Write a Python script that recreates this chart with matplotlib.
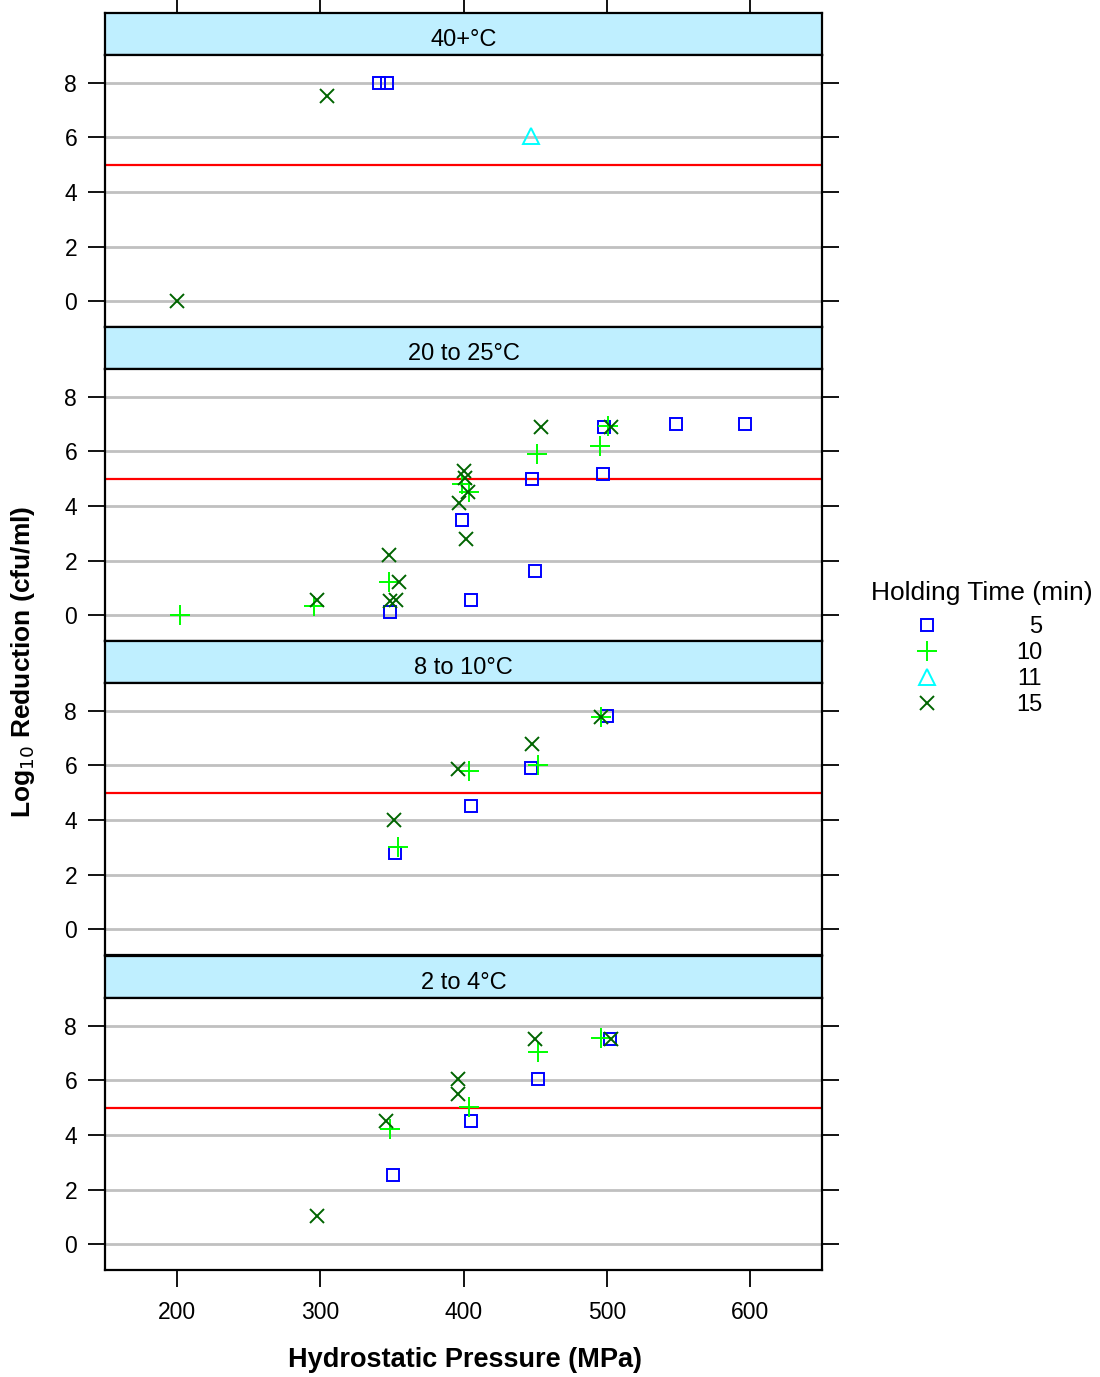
import matplotlib
matplotlib.use('Agg')
import matplotlib.pyplot as plt

plt.rcParams['font.family'] = ['Liberation Sans', 'DejaVu Sans']

# panels, top to bottom
temp_groups = ["40+°C", "20 to 25°C", "8 to 10°C", "2 to 4°C"]
hold_times = [5, 10, 11, 15]

temp_40 = {
    "pressure": [200, 305, 341, 347, 447],
    "reduction": [0.0, 7.5, 8.0, 8.0, 6.05],
    "hold": [15, 15, 5, 5, 11],
}
temp_20 = {
    "pressure": [202, 296, 298, 348, 348, 355, 349, 353, 349, 405, 399, 402, 397, 400,
                 401, 403, 399, 404, 448, 451, 454, 450, 497, 495, 498, 501, 503, 548, 596],
    "reduction": [0.0, 0.35, 0.55, 2.2, 1.23, 1.2, 0.52, 0.55, 0.13, 0.55, 3.5, 2.8, 4.1, 5.27,
                  5.03, 4.5, 4.8, 4.5, 5.0, 5.9, 6.9, 1.62, 5.18, 6.18, 6.9, 6.92, 6.9, 7.0, 7.0],
    "hold": [10, 10, 15, 15, 10, 15, 15, 15, 5, 5, 5, 15, 15, 15,
             15, 15, 10, 10, 5, 10, 15, 5, 5, 10, 5, 10, 15, 5, 5],
}
temp_8 = {
    "pressure": [496, 496, 500, 448, 447, 452, 396.5, 404, 405, 351.5, 354, 352],
    "reduction": [7.78, 7.78, 7.8, 6.77, 5.89, 6.0, 5.88, 5.78, 4.51, 4.0, 3.02, 2.8],
    "hold": [15, 10, 5, 15, 5, 10, 15, 10, 5, 15, 10, 5],
}
temp_2 = {
    "pressure": [298, 351, 346, 349, 396.5, 396.5, 404, 405, 450, 452, 452, 496, 502, 503],
    "reduction": [1.02, 2.52, 4.52, 4.2, 6.04, 5.5, 5.03, 4.52, 7.53, 7.04, 6.04, 7.56, 7.53, 7.53],
    "hold": [15, 5, 15, 10, 15, 15, 10, 5, 15, 10, 5, 10, 5, 15],
}
panels = [temp_40, temp_20, temp_8, temp_2]

x_ticks = [200, 300, 400, 500, 600]
y_ticks = [0, 2, 4, 6, 8]
target_log = 5

styles = {
    5: dict(marker='s', color='#0000FF', ms=8, mfc='none', mew=1.4),
    10: dict(marker='+', color='#00FF00', ms=14, mew=1.4),
    11: dict(marker='^', color='#00FFFF', ms=12, mfc='none', mew=1.4),
    15: dict(marker='x', color='#006400', ms=10, mew=1.4),
}

W, H = 1100, 1377
fig = plt.figure(figsize=(W / 100, H / 100), dpi=100)

def px_axes(x0, y0, x1, y1):
    return fig.add_axes([x0 / W, 1 - y1 / H, (x1 - x0) / W, (y1 - y0) / H])

left, right = 105, 822
tops = [13, 327, 641, 956]
strip_h, plot_h = 42, 272

for i, (name, d) in enumerate(zip(temp_groups, panels)):
    t = tops[i]
    # strip
    sax = px_axes(left, t, right, t + strip_h)
    sax.set_facecolor('#BFEFFF')
    sax.set_xlim(150, 650)
    sax.set_yticks([])
    sax.text(0.5, 0.36, name, transform=sax.transAxes, ha='center', va='center', fontsize=17)
    for sp in sax.spines.values():
        sp.set_linewidth(1.6)
    if i == 0:
        sax.set_xticks(x_ticks)
        sax.tick_params(axis='x', top=True, bottom=False, labeltop=False, labelbottom=False,
                        direction='out', length=12, width=1.3)
    else:
        sax.set_xticks([])

    ax = px_axes(left, t + strip_h, right, t + strip_h + plot_h)
    ax.set_xlim(150, 650)
    ax.set_ylim(-0.95, 9.02)
    ax.set_yticks(y_ticks)
    ax.set_xticks(x_ticks)
    for y in y_ticks:
        ax.axhline(y, color='#C0C0C0', lw=2, zorder=1)
    ax.axhline(target_log, color='#FF0000', lw=1.6, zorder=2)
    for h in hold_times:
        xs = [p for p, hh in zip(d["pressure"], d["hold"]) if hh == h]
        ys = [r for r, hh in zip(d["reduction"], d["hold"]) if hh == h]
        if xs:
            ax.plot(xs, ys, ls='none', zorder=3, **styles[h])
    ax.tick_params(axis='y', left=True, right=True, labelleft=True, labelright=False,
                   direction='out', length=12, width=1.3, labelsize=16.5, pad=8)
    last = i == len(temp_groups) - 1
    ax.tick_params(axis='x', top=False, bottom=last, labelbottom=last,
                   direction='out', length=12, width=1.3, labelsize=16.5, pad=10)
    for sp in ax.spines.values():
        sp.set_linewidth(1.6)

fig.text(465 / W, 1 - 1360 / H, "Hydrostatic Pressure (MPa)", ha='center', va='center',
         fontsize=19.5, fontweight='bold')
fig.text(23 / W, 1 - 662 / H, "Log$_{10}$ Reduction (cfu/ml)", ha='center', va='center',
         rotation=90, fontsize=19, fontweight='bold')

# legend
fig.text(982 / W, 1 - 593 / H, "Holding Time (min)", ha='center', va='center', fontsize=19)
leg_y = [625, 651, 677, 703]
for h, yy in zip(hold_times, leg_y):
    fig.lines.append(matplotlib.lines.Line2D([927 / W], [1 - yy / H], transform=fig.transFigure,
                                             ls='none', **styles[h]))
    fig.text(1042 / W, 1 - (yy + 2) / H, str(h), ha='right', va='center', fontsize=17)

fig.savefig('out.png', dpi=100)
